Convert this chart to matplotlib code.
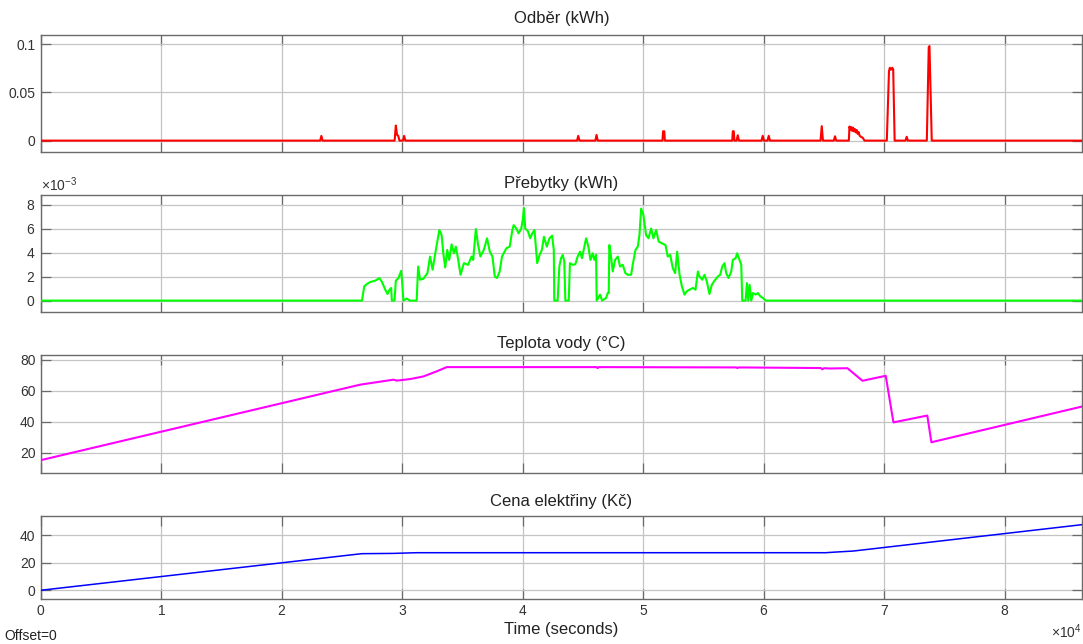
import numpy as np
import matplotlib
matplotlib.use("Agg")
import matplotlib.pyplot as plt
from matplotlib.ticker import FormatStrFormatter, ScalarFormatter

plt.rcParams['font.family'] = ['Liberation Sans', 'DejaVu Sans']
plt.rcParams['mathtext.fontset'] = 'custom'
plt.rcParams['mathtext.rm'] = 'Liberation Sans'
plt.rcParams['mathtext.it'] = 'Liberation Sans:italic'

# simulation time span (one day)
T_END = 86400

# Odber (kWh) - grid consumption
odber_t = [0, 23170, 23270, 23370, 29350, 29450, 29550, 29650, 29750,
           30040, 30140, 30240, 44490, 44590, 44690, 46010, 46110, 46210,
           51580, 51630, 51730, 51780, 57370, 57420, 57500, 57550,
           57730, 57830, 57930, 59800, 59900, 60000, 60300, 60400, 60500,
           64700, 64800, 64900, 65800, 65900, 66000,
           67050, 67100, 67180, 67250, 67330, 67400, 67480, 67550, 67630,
           67700, 67780, 67850, 67950, 68050, 68200, 68350,
           70200, 70380, 70450, 70550, 70650, 70730, 70850,
           71750, 71850, 71950, 73520, 73680, 73740, 73930, 86400]
odber_kwh = [0, 0, 0.0049, 0, 0, 0.0156, 0.006, 0.005, 0,
             0, 0.0049, 0, 0, 0.0049, 0, 0, 0.0059, 0,
             0, 0.0097, 0.0097, 0, 0, 0.0097, 0.0097, 0,
             0, 0.0056, 0, 0, 0.005, 0, 0, 0.005, 0,
             0, 0.015, 0, 0, 0.0045, 0,
             0, 0.0146, 0.011, 0.014, 0.010, 0.0135, 0.0095, 0.012, 0.0085,
             0.011, 0.007, 0.009, 0.005, 0.004, 0.003, 0,
             0, 0.072, 0.0755, 0.0735, 0.0755, 0.074, 0,
             0, 0.004, 0, 0, 0.097, 0.098, 0, 0]

# Prebytky (x 1e-3 kWh) - PV surplus
preb_t = [0, 26640, 26830, 27050, 27330, 27740, 28100, 28300, 28570, 28760,
          28930, 29060, 29120, 29340, 29450, 29670, 29890, 29970, 30080,
          30360, 30600, 31180, 31300, 31460, 31740, 32070, 32290, 32500,
          32840, 33060, 33250, 33390, 33550, 33720, 33880, 34080, 34270,
          34430, 34630, 34820, 35100, 35450, 35730, 35870, 36090, 36280,
          36470, 36750, 37020, 37250, 37470, 37660, 37850, 38070, 38260,
          38620, 38900, 39120, 39230, 39450, 39640, 39860, 40000, 40080,
          40190, 40410, 40600, 40770, 40960, 41180, 41380, 41570, 41740,
          41980, 42200, 42420, 42560, 42600, 42880, 43020, 43160, 43300,
          43430, 43520, 43800, 43900, 44130, 44350, 44540, 44740, 44900,
          45040, 45240, 45430, 45600, 45790, 45930, 46070, 46120, 46400,
          46570, 46900, 47040, 47120, 47170, 47310, 47450, 47650, 47870,
          48060, 48280, 48500, 48700, 48980, 49110, 49340, 49530, 49670,
          49810, 50000, 50220, 50420, 50640, 50830, 51050, 51270, 51550,
          51830, 52020, 52220, 52440, 52630, 52800, 53000, 53190, 53410,
          53600, 53820, 54100, 54320, 54520, 54650, 54880, 55070, 55260,
          55480, 55680, 55900, 56180, 56370, 56540, 56730, 56870, 57060,
          57290, 57420, 57650, 57780, 57980, 58120, 58200, 58480, 58590,
          58700, 58810, 58950, 59090, 59310, 59500, 59700, 59920, 60140,
          86400]
preb_mkwh = [0, 0, 1.19, 1.38, 1.55, 1.66, 1.88, 1.55, 0.91, 0.55,
             0.91, 1.05, 0, 0, 1.66, 1.88, 2.48, 1.6, 0,
             0.17, 0, 0, 2.84, 1.74, 1.82, 2.29, 3.67, 2.57,
             4.63, 5.88, 5.46, 3.94, 2.76, 4.22, 3.39, 4.69, 3.94,
             4.5, 3.39, 2.15, 3.12, 2.98, 3.67, 3.39, 5.96, 4.63,
             3.67, 4.22, 5.19, 4.08, 3.67, 2.01, 1.88, 2.43, 3.67,
             4.36, 4.5, 5.88, 6.29, 6.01, 5.6, 6.01, 6.84, 7.72,
             6.01, 5.79, 5.19, 5.6, 5.88, 3.12, 3.81, 4.22, 5.32,
             4.5, 5.19, 5.41, 4.22, 0, 0, 2.84, 3.53, 3.81,
             3.26, 0, 0, 3.12, 2.98, 3.03, 3.67, 4.08, 3.53,
             4.22, 5.19, 4.5, 3.39, 3.94, 3.39, 3.81, 0, 0.5,
             0, 0.22, 0.63, 0.63, 4.63, 3.67, 2.43, 3.39, 3.67,
             2.84, 2.98, 2.29, 2.15, 2.15, 2.98, 4.22, 4.5, 5.46,
             7.67, 7.12, 5.46, 5.19, 6.01, 5.19, 5.88, 4.91, 4.77,
             4.63, 3.67, 3.81, 2.7, 2.29, 4.08, 2.15, 1.19, 0.5,
             0.77, 0.91, 1.05, 0.91, 2.43, 2.01, 1.74, 2.15, 1.6,
             0.55, 1.32, 1.66, 2.01, 2.15, 2.84, 3.12, 2.29, 1.88,
             2.43, 3.39, 3.53, 3.94, 3.39, 2.98, 0, 0, 1.46,
             0, 1.32, 0, 0.63, 0.5, 0.63, 0.36, 0.22, 0,
             0]

# Teplota vody (degC) - boiler water temperature
tepl_t = [0, 26490, 29250, 29530, 30640, 31740, 32850, 33680, 46100, 46200,
          46300, 57700, 57800, 57900, 64720, 64850, 65000, 65500, 66930,
          68180, 70110, 70750, 73560, 73900, 86400]
tepl_c = [15.3, 63.9, 67.1, 66.5, 67.5, 69.2, 72.5, 75.2, 75.2, 74.6,
          75.2, 75.0, 74.6, 75.0, 74.6, 73.8, 74.5, 74.3, 74.5,
          66.4, 69.6, 39.6, 44.0, 26.8, 49.8]

# Cena elektriny (Kc) - cumulative price
cena_t = [0, 26620, 29240, 31140, 65100, 66000, 67400, 86400]
cena_kc = [0, 26.6, 26.8, 27.3, 27.3, 27.8, 28.5, 47.7]

panels = [
    ("Odběr (kWh)", odber_t, np.array(odber_kwh), '#ff0000', 1.5, (-0.0118, 0.110)),
    ("Přebytky (kWh)", preb_t, np.array(preb_mkwh) * 1e-3, '#00ff00', 1.5, (-0.95e-3, 8.8e-3)),
    ("Teplota vody (°C)", tepl_t, np.array(tepl_c), '#ff00ff', 1.5, (7, 83)),
    ("Cena elektřiny (Kč)", cena_t, np.array(cena_kc), '#0000ff', 1.1, (-6, 54)),
]
yticks = [[0, 0.05, 0.1], [0, 2e-3, 4e-3, 6e-3, 8e-3], [20, 40, 60, 80], [0, 20, 40]]
title_pads = [8, 5, 5, 7]

# axes boxes in figure pixels: (top, bottom)
W, H = 1083, 644
boxes = [(34.5, 152), (195, 312), (355, 473), (516, 598.5)]
left_px, right_px = 41, 1082

txt = '#333333'
spine_c = '#6a6a6a'
grid_c = '#c4c4c4'

fig = plt.figure(figsize=(W / 100, H / 100), dpi=100)
axes = []
for i, ((title, t, v, col, lw, ylim), (top, bot)) in enumerate(zip(panels, boxes)):
    ax = fig.add_axes([left_px / W, 1 - bot / H, (right_px - left_px) / W, (bot - top) / H])
    ax.plot(t, v, color=col, lw=lw, zorder=3)
    ax.set_xlim(0, T_END)
    ax.set_ylim(*ylim)
    ax.set_xticks(np.arange(0, 9) * 1e4)
    ax.set_yticks(yticks[i])
    ax.set_title(title, fontsize=12, color='#222222', pad=title_pads[i])
    ax.grid(True, color=grid_c, lw=0.9, zorder=0)
    ax.tick_params(direction='in', length=7, width=0.9, color=spine_c,
                   top=True, right=True, labelsize=10, labelcolor=txt, pad=4)
    for s in ax.spines.values():
        s.set_color(spine_c)
        s.set_linewidth(1.0)
    if i < 3:
        ax.tick_params(labelbottom=False)
    axes.append(ax)

axes[0].yaxis.set_major_formatter(FormatStrFormatter('%g'))

# x10^-3 factor on the surplus axis
fmt = ScalarFormatter(useMathText=True)
fmt.set_powerlimits((-3, -3))
axes[1].yaxis.set_major_formatter(fmt)
axes[1].yaxis.get_offset_text().set_fontsize(10)
axes[1].yaxis.get_offset_text().set_color(txt)

for ax in axes[2:]:
    ax.yaxis.set_major_formatter(FormatStrFormatter('%g'))

# time axis in units of 1e4 s
xfmt = ScalarFormatter(useMathText=True)
xfmt.set_powerlimits((4, 4))
axes[3].xaxis.set_major_formatter(xfmt)
axes[3].xaxis.get_offset_text().set_fontsize(10)
axes[3].xaxis.get_offset_text().set_color(txt)
axes[3].set_xlabel("Time (seconds)", fontsize=12, color='#222222', labelpad=3)

fig.text(4 / W, 1 - 636 / H, "Offset=0", fontsize=10, color='#222222', va='center', ha='left')

fig.savefig("out.png", dpi=100)
